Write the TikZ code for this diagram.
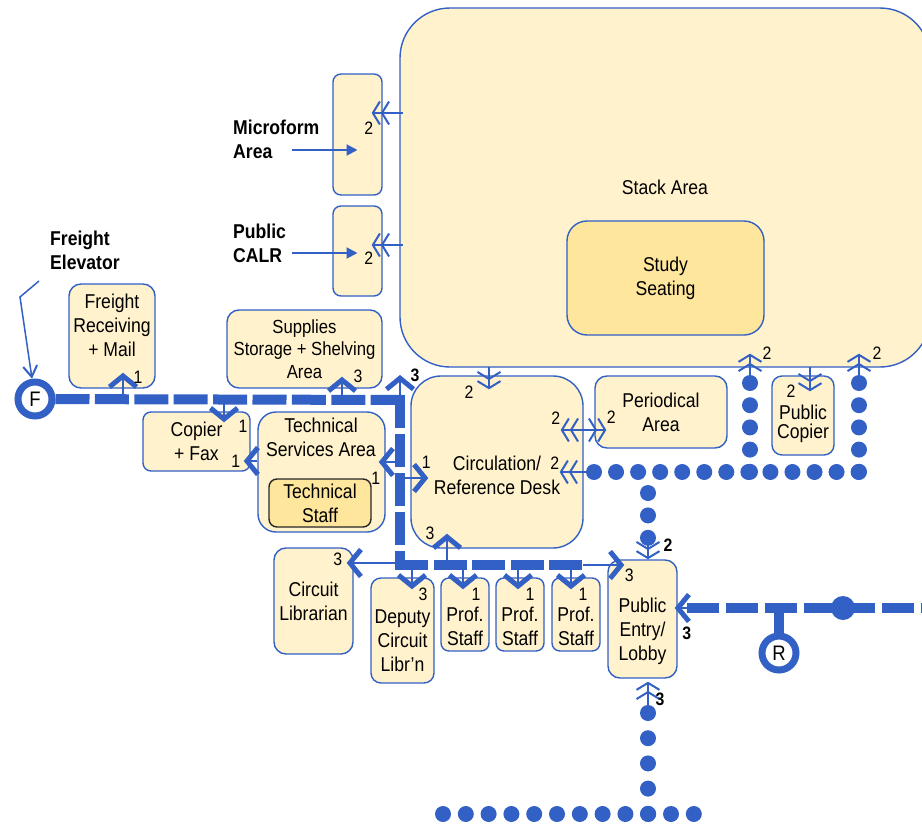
\documentclass[tikz,border=0pt]{standalone}
\usepackage{fontspec}
\setmainfont{Liberation Sans}[FakeStretch=0.88]
\usepackage{tikz}
\usetikzlibrary{arrows.meta,calc}

\definecolor{lblue}{RGB}{50,96,196}
\definecolor{lyellow}{RGB}{255,242,204}
\definecolor{dyellow}{RGB}{254,230,156}

\newcommand{\roomfont}{\fontsize{20}{24}\selectfont}
\newcommand{\numfont}{\fontsize{18}{18}\selectfont}

\tikzset{
  Wtip/.tip = {Straight Barb[length=7pt,width=23pt,line width=2pt]},
  Vtip/.tip = {Straight Barb[length=11pt,width=27pt,line width=5pt]}
}

\begin{document}
\begin{tikzpicture}[x=1pt, y=-1pt,
  room/.style = {draw=lblue, fill=lyellow, line width=1.4pt, rounded corners=10pt, inner sep=0pt, align=center, font=\roomfont},
  txt/.style = {align=center, inner sep=0pt, font=\roomfont},
  lbl/.style = {align=left, inner sep=0pt, font=\bfseries\roomfont},
  num/.style = {inner sep=0pt, text=black, font=\numfont},
  numb/.style = {inner sep=0pt, text=black, font=\bfseries\numfont},
  hub/.style = {circle, draw=lblue, line width=7pt, fill=white, minimum size=34pt, inner sep=0pt, font=\fontsize{21}{21}\selectfont},
  corr/.style = {draw=lblue, line width=10pt},
  dotline/.style = {draw=lblue, line width=16pt, line cap=round, dash pattern=on 0pt off #1},
  one/.style = {color=lblue, line width=1.8pt, -{Vtip[]}},
  two/.style = {color=lblue, line width=1.5pt, -{Wtip[]Wtip[]}},
  twin/.style = {color=lblue, line width=1.5pt, {Wtip[]Wtip[]}-{Wtip[]Wtip[]}},
  ptr/.style = {color=lblue, line width=2pt, -{Triangle[length=11pt,width=11pt]}}]

\useasboundingbox (0,0) rectangle (922,825);

% areas
\node[room, rounded corners=50pt, minimum width=530pt, minimum height=359pt] (Stack) at (665,187.5) {Stack Area};
\node[room, fill=dyellow, rounded corners=20pt, minimum width=197pt, minimum height=114pt] (Study) at (665.5,278) {Study\\Seating};
\node[room, rounded corners=8pt, minimum width=49pt, minimum height=121pt] (MF) at (357.5,134.5) {};
\node[room, rounded corners=8pt, minimum width=49pt, minimum height=90pt] (CALR) at (357.5,251) {};
\node[room, rounded corners=12pt, minimum width=86pt, minimum height=104pt] (FRM) at (112,336) {};
\node[txt] (FRMt) at (112,325) {Freight\\Receiving\\+ Mail};
\node[room, rounded corners=12pt, minimum width=155pt, minimum height=78pt, font=\fontsize{19}{22.5}\selectfont] (SUP) at (304.5,349) {Supplies\\Storage + Shelving\\Area};
\node[room, rounded corners=8pt, minimum width=107pt, minimum height=59pt] (CF) at (196.5,441.5) {Copier\\+ Fax};
\node[room, rounded corners=18pt, minimum width=127pt, minimum height=120pt] (TSA) at (321.5,472) {};
\node[txt] (TSAt) at (321,437.5) {Technical\\Services Area};
\node[room, draw=black!85, fill=dyellow, rounded corners=8pt, minimum width=102pt, minimum height=48pt] (TS) at (320,503) {Technical\\Staff};
\node[room, rounded corners=30pt, minimum width=172pt, minimum height=172pt] (CRD) at (497,462) {};
\node[txt] (CRDt) at (497,475.5) {Circulation/\\Reference Desk};
\node[room, rounded corners=12pt, minimum width=132pt, minimum height=72pt] (PA) at (661,412) {Periodical\\Area};
\node[room, rounded corners=10pt, minimum width=62pt, minimum height=79pt] (PC) at (803,415.5) {};
\node[txt, font=\fontsize{20}{19}\selectfont] (PCt) at (803,423.5) {Public\\Copier};
\node[room, rounded corners=12pt, minimum width=69pt, minimum height=118pt] (PEL) at (642.5,619) {};
\node[txt] (PELt) at (642.5,631) {Public\\Entry/\\Lobby};
\node[room, rounded corners=12pt, minimum width=79pt, minimum height=106pt] (CL) at (313.5,601) {Circuit\\Librarian};
\node[room, rounded corners=10pt, minimum width=63pt, minimum height=105pt] (DCL) at (402.5,630.5) {};
\node[txt] (DCLt) at (402.5,641) {Deputy\\Circuit\\Libr'n};
\node[room, rounded corners=8pt, minimum width=48pt, minimum height=73pt] (PS1) at (465,614.5) {};
\node[txt] (PS1t) at (465,626) {Prof.\\Staff};
\node[room, rounded corners=8pt, minimum width=48pt, minimum height=73pt] (PS2) at (520,614.5) {};
\node[txt] (PS2t) at (520,626) {Prof.\\Staff};
\node[room, rounded corners=8pt, minimum width=48pt, minimum height=73pt] (PS3) at (576,614.5) {};
\node[txt] (PS3t) at (576,626) {Prof.\\Staff};

% outside labels
\node[lbl, anchor=west] (FEl) at (50,250) {Freight\\Elevator};
\node[lbl, anchor=west] (MFl) at (233,139) {Microform\\Area};
\node[lbl, anchor=west] (CALRl) at (233,243.5) {Public\\CALR};

% elevator, ramp
\node[hub] (F) at (35,399) {F};
\node[hub] (R) at (779,653) {R};
\node[circle, fill=lblue, minimum size=24pt, inner sep=0pt] (J) at (843,608) {};

% corridors
\coordinate (k1) at (405,400);
\coordinate (k2) at (400,395);
\coordinate (k3) at (400,570);
\coordinate (k4) at (395,565);
\coordinate (k5) at (583,565);
\coordinate (k6) at (687,608);
\coordinate (k7) at (935,608);
\coordinate (rt) at (779,608);
\draw[corr, dash pattern=on 34pt off 5.4pt] (F) -- (k1);
\draw[corr, dash pattern=on 33pt off 6pt] (k2) -- (k3);
\draw[corr, dash pattern=on 33pt off 5.5pt] (k4) -- (k5);
\draw[corr, dash pattern=on 32pt off 7pt] (k6) -- (k7);
\draw[corr] (rt) -- (R);

% public paths
\draw[dotline=22.05pt] (594,472) -- (859,472);
\draw[dotline=22.2pt] (750,383) -- (750,472);
\draw[dotline=22.2pt] (859,383) -- (859,472);
\draw[dotline=22.4pt] (648,493) -- (648,538);
\draw[dotline=25.2pt] (648,713) -- (648,814);
\draw[dotline=22.8pt] (443,814) -- (694,814);

% stack links
\coordinate (sMF) at (403,113);
\coordinate (sCL) at (403,245);
\coordinate (sCR) at (489,367);
\coordinate (sPC) at (810,367);
\path[two] (sMF) edge node[num, at end, xshift=-3pt, yshift=-15pt] {2} ($(sMF -| MF.east)+(-11,0)$);
\path[two] (sCL) edge node[num, at end, xshift=-3pt, yshift=-13pt] {2} ($(sCL -| CALR.east)+(-11,0)$);
\path[two] (sCR) edge node[num, at end, xshift=-20pt, yshift=-3pt] {2} ($(sCR |- CRD.north)+(0,14)$);
\path[two] (sPC) edge node[num, at end, xshift=-19pt] {2} ($(sPC |- PC.north)+(0,16)$);
\path[twin] ($(CRD.east)+(-23,-32)$) edge node[num, at start, xshift=-5pt, yshift=12pt] {2} node[num, at end, xshift=5pt, yshift=13pt] {2} ($(PA.west)+(12,18)$);

% pointers
\coordinate (pMF) at (292,150);
\coordinate (pCL) at (292,253);
\coordinate (fe1) at (39,281);
\coordinate (fe2) at (20,297);
\path[ptr] (pMF) edge (pMF -| MF.center);
\path[ptr] (pCL) edge (pCL -| CALR.center);
\draw[lblue, line width=1.5pt, -{Straight Barb[length=11pt,width=14pt,line width=2pt]}] (fe1) -- (fe2) -- (F);

% corridor links
\coordinate (c1) at (123,400);
\coordinate (c2) at (224,400);
\coordinate (c3) at (342,400);
\coordinate (c4) at (400,400);
\coordinate (c5) at (400,462);
\coordinate (c6) at (400,478);
\coordinate (c7) at (447,565);
\coordinate (c8) at (400,563);
\coordinate (c9) at (412,565);
\coordinate (c10) at (463,565);
\coordinate (c11) at (518,565);
\coordinate (c12) at (571,565);
\coordinate (c13) at (690,608);
\coordinate (c14) at (400,375);
\coordinate (t1) at ([yshift=11pt]TSA.west);
\path[one] (c1) edge node[num, at end, xshift=15pt, yshift=-5pt] {1} ($(c1 |- FRM.south)+(0,-16)$);
\path[one] (c2) edge node[num, at end, xshift=19pt, yshift=-4pt] {1} ($(c2 |- CF.north)+(0,11)$);
\path[one] (c3) edge node[num, at end, xshift=16pt] {3} ($(c3 |- SUP.south)+(0,-12)$);
\path[one] (c4) edge node[numb, at end, xshift=15pt] {3} (c14);
\path[one] (t1) edge node[num, at end, xshift=-8pt] {1} ($(t1 -| CF.east)+(-7,0)$);
\path[one] (c5) edge node[num, at end, xshift=-3pt, yshift=-16pt] {1} ($(c5 -| TSA.east)+(-7,0)$);
\path[one] (c6) edge node[num, at end, xshift=-2pt, yshift=16pt] {1} ($(c6 -| CRD.west)+(18,0)$);
\path[one] (c7) edge node[num, at end, xshift=-17pt] {3} ($(c7 |- CRD.south)+(0,-15)$);
\path[one] (c8) edge node[num, at end, xshift=-9pt, yshift=4pt] {3} ($(c8 -| CL.east)+(-7,0)$);
\path[one] (c9) edge node[num, at end, xshift=11pt, yshift=-5pt] {3} ($(c9 |- DCL.north)+(0,12)$);
\path[one] (c10) edge node[num, at end, xshift=13pt, yshift=-5pt] {1} ($(c10 |- PS1.north)+(0,12)$);
\path[one] (c11) edge node[num, at end, xshift=12pt, yshift=-5pt] {1} ($(c11 |- PS2.north)+(0,12)$);
\path[one] (c12) edge node[num, at end, xshift=12pt, yshift=-5pt] {1} ($(c12 |- PS3.north)+(0,12)$);
\path[one] (k5) edge node[num, at end, xshift=5pt, yshift=-10pt] {3} ($(k5 -| PEL.west)+(17,0)$);
\path[one] (c13) edge node[numb, at end, xshift=12pt, yshift=-25pt] {3} ($(c13 -| PEL.east)+(-3,0)$);

% dot links
\coordinate (dA) at (594,472);
\coordinate (dB) at (750,383);
\coordinate (dC) at (859,383);
\coordinate (dD) at (648,538);
\coordinate (dE) at (648,713);
\path[two] (dA) edge node[num, at end, xshift=-5pt, yshift=9pt] {2} ($(dA -| CRD.east)+(-24,0)$);
\path[two] (dB) edge node[num, at end, xshift=17pt] {2} ($(dB |- Stack.south)+(0,-14)$);
\path[two] (dC) edge node[num, at end, xshift=18pt] {2} ($(dC |- Stack.south)+(0,-14)$);
\path[two] (dD) edge node[numb, at end, xshift=20pt, yshift=14pt] {2} (dD |- PEL.north);
\path[two] (dE) edge node[numb, at end, xshift=12pt, yshift=-18pt] {3} ($(dE |- PEL.south)+(0,3)$);
\end{tikzpicture}
\end{document}
